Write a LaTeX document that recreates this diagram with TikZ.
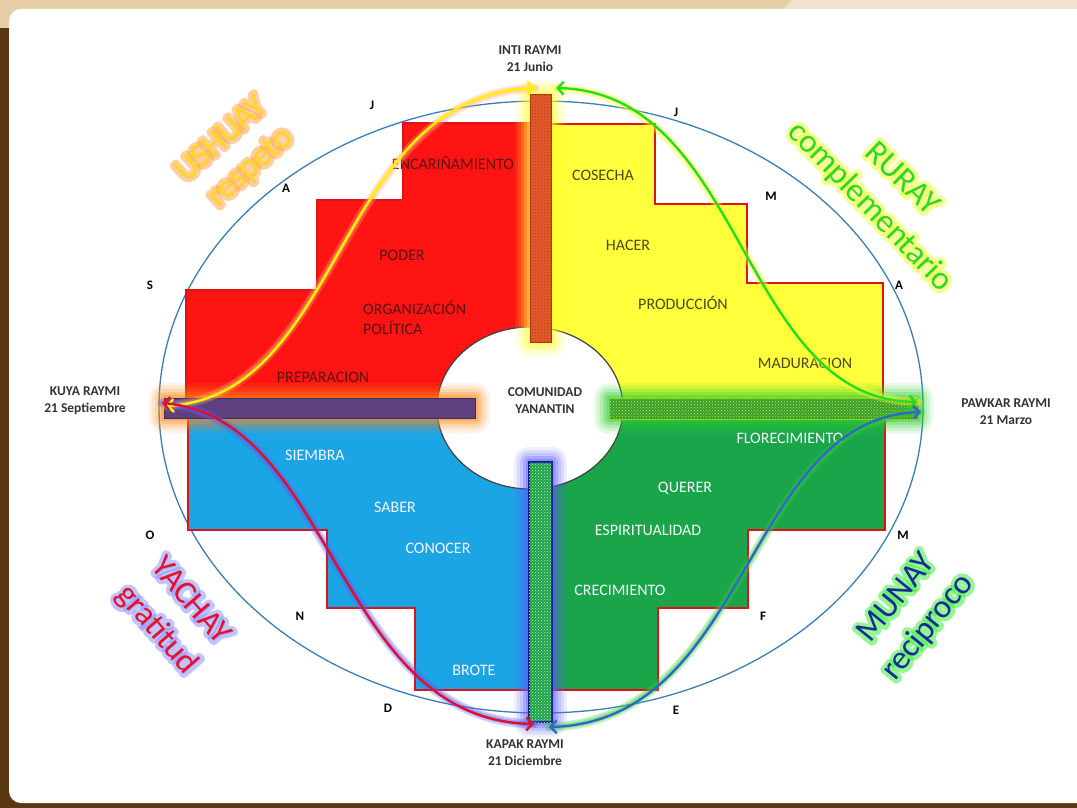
\documentclass[tikz,border=0pt]{standalone}
\usepackage{fontspec}
\setmainfont{Carlito}
\usetikzlibrary{patterns,arrows.meta}

\definecolor{brownbg}{HTML}{5A3712}
\definecolor{beigebg}{HTML}{E6CFA6}
\definecolor{beigelt}{HTML}{F0E2CC}
\definecolor{ellblue}{HTML}{3C7DB5}
\definecolor{qred}{HTML}{FF1414}
\definecolor{qyellow}{HTML}{FFFF3C}
\definecolor{qblue}{HTML}{1BA5E5}
\definecolor{qgreen}{HTML}{1AA54B}
\definecolor{quadline}{HTML}{E01218}
\definecolor{barorange}{HTML}{E85A2A}
\definecolor{barorangedk}{HTML}{A8381A}
\definecolor{barpurple}{HTML}{5E4080}
\definecolor{bargreen}{HTML}{3C9A3C}
\definecolor{bargreenb}{HTML}{22A050}
\definecolor{navyline}{HTML}{1A1A90}
\definecolor{glowyellow}{HTML}{FFFF30}
\definecolor{gloworange}{HTML}{FF8A1A}
\definecolor{glowgreen}{HTML}{30D030}
\definecolor{glowblue}{HTML}{5A5AFF}
\definecolor{glowpeach}{HTML}{FFB070}
\definecolor{cyellow}{HTML}{FFF200}
\definecolor{cgreen}{HTML}{22DD22}
\definecolor{cred}{HTML}{E0102A}
\definecolor{cblue}{HTML}{3366CC}
\definecolor{redtxtq}{HTML}{5C1010}
\definecolor{yeltxtq}{HTML}{4D4A1A}
\definecolor{wtxtq}{HTML}{F4F6FA}
\definecolor{raymitxt}{HTML}{333333}
\definecolor{ushuaytxt}{HTML}{FFD820}
\definecolor{ushuayglow}{HTML}{FFA850}
\definecolor{ruraytxt}{HTML}{2ED62E}
\definecolor{ruraygl}{HTML}{EEFF40}
\definecolor{yachaytxt}{HTML}{E8102A}
\definecolor{yachaygl}{HTML}{8C96FF}
\definecolor{munaytxt}{HTML}{1A2A9A}
\definecolor{munaygl}{HTML}{40F040}

\tikzset{
  qtext/.style={font=\fontsize{16}{18}\selectfont, inner sep=0pt},
  raymi/.style={font=\bfseries\fontsize{13.5}{17}\selectfont, text=raymitxt, align=center, inner sep=0pt},
  month/.style={font=\bfseries\fontsize{13}{15}\selectfont, text=black, inner sep=0pt},
  bigword/.style={font=\fontsize{33}{36}\selectfont, inner sep=0pt},
  quad/.style={draw=quadline, line width=2.5pt, line join=miter},
  curveglow/.style={line width=9pt, opacity=0.3, line cap=round},
  curveglowb/.style={line width=5pt, opacity=0.35, line cap=round},
  curvecore/.style={line width=2.4pt, arrows={Straight Barb[length=6pt,width=13pt]-Straight Barb[length=6pt,width=13pt]}},
}

% glowing word: name, x, y, angle, glow colour, text colour, text
\newcommand{\glowword}[7]{%
  \node[bigword, rotate=#4, text=#5, draw opacity=0.55, text opacity=0.55] (#1g) at (#2,#3)
    {\special{pdf:literal direct 1 j 1 J 8 w 2 Tr}#7\special{pdf:literal direct 0 Tr}};
  \node[bigword, rotate=#4, text=#6] (#1) at (#2,#3) {#7};
}

\newcommand{\glowbar}[5]{%
  \foreach \r/\o in {15/0.10,12/0.13,9/0.17,6/0.25,3/0.35}{
    \fill[#5, opacity=\o, rounded corners=\r pt] (#1-\r,#2-\r) rectangle (#3+\r,#4+\r);
  }
}

\begin{document}
\begin{tikzpicture}[x=1pt,y=-1pt]
\useasboundingbox (0,0) rectangle (1077,808);

% background card
\fill[brownbg] (0,0) rectangle (1077,808);
\fill[beigebg] (0,0) rectangle (1077,28);
\fill[beigelt] (792,0) -- (1077,0) -- (1077,10) -- (782,10) -- cycle;
\fill[white, rounded corners=12pt] (9,9) rectangle (1100,803);

% outer ellipse
\draw[ellblue, line width=1.3pt] (541,407) ellipse [x radius=382, y radius=306];

% quadrants of the chakana
\filldraw[quad, fill=qred] (186,407) -- (186,290) -- (317,290) -- (317,200) -- (403,200) -- (403,123) -- (541,123) -- (541,407) -- cycle;
\filldraw[quad, fill=qyellow] (541,124) -- (655,124) -- (655,204) -- (747,204) -- (747,283) -- (883,283) -- (883,407) -- (541,407) -- cycle;
\filldraw[quad, fill=qgreen] (541,407) -- (885,407) -- (885,530) -- (748,530) -- (748,608) -- (658,608) -- (658,690) -- (541,690) -- cycle;
\filldraw[quad, fill=qblue] (188,407) -- (541,407) -- (541,690) -- (415,690) -- (415,608) -- (327,608) -- (327,530) -- (188,530) -- cycle;

% central ellipse
\filldraw[fill=white, draw=black!75, line width=1.2pt] (530,408) ellipse [x radius=93, y radius=81];

% bars with glows
\glowbar{530}{95}{551}{342}{glowyellow}
\filldraw[fill=barorange, draw=barorangedk, line width=1pt] (530,95) rectangle (551,342);
\fill[pattern=crosshatch dots, pattern color=barorangedk] (530,95) rectangle (551,342);

\glowbar{164}{398}{475}{418}{gloworange}
\filldraw[fill=barpurple, draw=barpurple!70!black, line width=0.8pt] (164,398) rectangle (475,418);

\glowbar{609}{398}{918}{419}{glowgreen}
\filldraw[fill=bargreen, draw=bargreen!60!yellow, line width=1pt] (609,398) rectangle (918,419);
\fill[pattern=crosshatch dots, pattern color=yellow!70!green] (609,398) rectangle (918,419);

\glowbar{529}{462}{552}{722}{glowblue}
\filldraw[fill=bargreenb, draw=navyline, line width=1.5pt] (529,462) rectangle (552,722);
\fill[pattern=crosshatch dots, pattern color=green!35!white] (529,462) rectangle (552,722);

% quadrant texts
\node[qtext, text=redtxtq] (t1) at (453,163) {ENCARIÑAMIENTO};
\node[qtext, text=redtxtq] (t2) at (402,255) {PODER};
\node[qtext, text=redtxtq, anchor=west] (t3) at (363,308) {ORGANIZACIÓN};
\node[qtext, text=redtxtq, anchor=west] (t4) at (363,328) {POLÍTICA};
\node[qtext, text=redtxtq] (t5) at (323,377) {PREPARACION};

\node[qtext, text=yeltxtq] (t6) at (603,175) {COSECHA};
\node[qtext, text=yeltxtq] (t7) at (628,245) {HACER};
\node[qtext, text=yeltxtq] (t8) at (683,303) {PRODUCCIÓN};
\node[qtext, text=yeltxtq] (t9) at (805,363) {MADURACION};

\node[qtext, text=wtxtq] (t10) at (315,455) {SIEMBRA};
\node[qtext, text=wtxtq] (t11) at (395,507) {SABER};
\node[qtext, text=wtxtq] (t12) at (438,548) {CONOCER};
\node[qtext, text=wtxtq] (t13) at (474,670) {BROTE};

\node[qtext, text=wtxtq] (t14) at (790,438) {FLORECIMIENTO};
\node[qtext, text=wtxtq] (t15) at (685,488) {QUERER};
\node[qtext, text=wtxtq] (t16) at (648,530) {ESPIRITUALIDAD};
\node[qtext, text=wtxtq] (t17) at (620,590) {CRECIMIENTO};

% curve end points
\coordinate (Ly) at (166,406);
\coordinate (Lr) at (162,403);
\coordinate (Ty) at (535,88);
\coordinate (Tg) at (556,88);
\coordinate (Rg) at (917,402);
\coordinate (Rb) at (921,412);
\coordinate (Br) at (534,724);
\coordinate (Bb) at (549,727);

% glows of curves
\draw[curveglow, draw=glowpeach] (Ly) .. controls (345,395) and (335,95) .. (Ty);
\draw[curveglow, draw=glowyellow] (Tg) .. controls (745,92) and (740,400) .. (Rg);
\draw[curveglow, draw=glowgreen] (Rb) .. controls (745,418) and (750,722) .. (Bb);
\draw[curveglow, draw=glowblue] (Lr) .. controls (335,418) and (335,720) .. (Br);
\draw[curveglowb, draw=glowpeach] (Ly) .. controls (345,395) and (335,95) .. (Ty);
\draw[curveglowb, draw=glowyellow] (Tg) .. controls (745,92) and (740,400) .. (Rg);
\draw[curveglowb, draw=glowgreen] (Rb) .. controls (745,418) and (750,722) .. (Bb);
\draw[curveglowb, draw=glowblue] (Lr) .. controls (335,418) and (335,720) .. (Br);

% curves
\draw[curvecore, draw=cyellow] (Ly) .. controls (345,395) and (335,95) .. (Ty);
\draw[curvecore, draw=cgreen] (Tg) .. controls (745,92) and (740,400) .. (Rg);
\draw[curvecore, draw=cblue] (Rb) .. controls (745,418) and (750,722) .. (Bb);
\draw[curvecore, draw=cred] (Lr) .. controls (335,418) and (335,720) .. (Br);

% raymi labels
\node[raymi] (inti) at (530,59) {INTI RAYMI\\21 Junio};
\node[raymi] (kuya) at (85,401) {KUYA RAYMI\\21 Septiembre};
\node[raymi] (pawkar) at (1006,412) {PAWKAR RAYMI\\21 Marzo};
\node[raymi] (kapak) at (525,753) {KAPAK RAYMI\\21 Diciembre};
\node[raymi] (comunidad) at (545,401) {COMUNIDAD\\YANANTIN};

% month letters
\node[month] (m1) at (372,105) {J};
\node[month] (m2) at (676,112) {J};
\node[month] (m3) at (771,196) {M};
\node[month] (m4) at (899,285) {A};
\node[month] (m5) at (903,535) {M};
\node[month] (m6) at (763,616) {F};
\node[month] (m7) at (676,710) {E};
\node[month] (m8) at (388,708) {D};
\node[month] (m9) at (300,616) {N};
\node[month] (m10) at (150,535) {O};
\node[month] (m11) at (150,285) {S};
\node[month] (m12) at (286,188) {A};

% big glowing words
\glowword{ushuay}{220}{138}{42}{ushuayglow}{ushuaytxt}{USHUAY}
\glowword{respeto}{251}{168}{42}{ushuayglow}{ushuaytxt}{respeto}
\glowword{ruray}{903}{178}{-44}{ruraygl}{ruraytxt}{RURAY}
\glowword{compl}{870}{207}{-46}{ruraygl}{ruraytxt}{complementario}
\glowword{yachay}{192}{600}{-49}{yachaygl}{yachaytxt}{YACHAY}
\glowword{gratitud}{157}{630}{-49}{yachaygl}{yachaytxt}{gratitud}
\glowword{munay}{895}{597}{51}{munaygl}{munaytxt}{MUNAY}
\glowword{reciproco}{928}{627}{51}{munaygl}{munaytxt}{reciproco}

\end{tikzpicture}
\end{document}
